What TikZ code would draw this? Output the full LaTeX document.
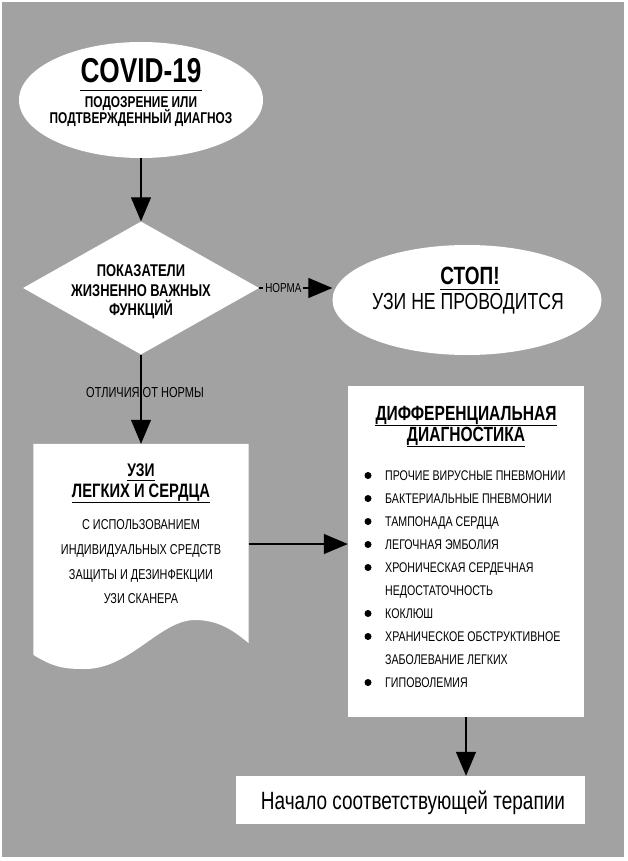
\documentclass[tikz,border=0pt]{standalone}
\usepackage{fontspec}
\setmainfont{Liberation Sans}[FakeStretch=0.76]
\usetikzlibrary{shapes.geometric,arrows.meta,calc}
\definecolor{bggray}{HTML}{A2A2A2}
\newcommand{\fsz}[1]{\fontsize{#1}{#1}\selectfont}
\begin{document}
\begin{tikzpicture}[x=1pt,y=-1pt,
  txt/.style={inner sep=0, anchor=base},
  btxt/.style={txt, font=\bfseries\fsz{#1}},
  rtxt/.style={txt, font=\fsz{#1}},
  whitebox/.style={fill=white, draw=none, inner sep=0},
  arr/.style={line width=1.2pt, -{Triangle[length=24pt,width=20pt]}},
  ul/.style={line width=0.9pt},
  bullet/.style={circle, fill=black, inner sep=0, minimum size=7pt}
]
\useasboundingbox (0,0) rectangle (627,861);
\fill[bggray] (2,2) rectangle (624,857);

% top ellipse
\node[ellipse, whitebox, minimum width=244, minimum height=116] (covid) at (141,100) {};
\node[btxt=34.5] (t1) at (141,83) {COVID-19};
\draw[ul] ($(t1.base west)+(0,7)$) -- ($(t1.base east)+(0,7)$);
\node[btxt=15.6] (t2) at (141,108) {ПОДОЗРЕНИЕ ИЛИ};
\node[btxt=15.6] (t3) at (141,124) {ПОДТВЕРЖДЕННЫЙ ДИАГНОЗ};

% diamond
\node[diamond, whitebox, minimum width=236, minimum height=133] (dia) at (141,288) {};
\node[btxt=17] (d1) at (141,276.5) {ПОКАЗАТЕЛИ};
\node[btxt=17] (d2) at (141,296) {ЖИЗНЕННО ВАЖНЫХ};
\node[btxt=17] (d3) at (141,315) {ФУНКЦИЙ};

% stop ellipse
\node[ellipse, whitebox, minimum width=269, minimum height=110] (stop) at (467,300) {};
\node[btxt=25] (s1) at (470,284) {СТОП!};
\draw[ul] ($(s1.base west)+(0,5)$) -- ($(s1.base east)+(0,5)$);
\node[rtxt=23.2] (s2) at (468,309) {УЗИ НЕ ПРОВОДИТСЯ};

% document shape
\node[inner sep=0, minimum width=215, minimum height=200] (doc) at (141,544) {};
\fill[white] (doc.north west) -- (doc.north east) -- (248.5,643)
  .. controls (235,632) and (220,620) .. (195,620)
  .. controls (160,620) and (130,669) .. (85,669)
  .. controls (65,669) and (55,668) .. (33.5,655) -- cycle;
\node[btxt=18.3] (u1) at (141,476.5) {УЗИ};
\draw[ul] ($(u1.base west)+(0,4)$) -- ($(u1.base east)+(0,4)$);
\node[btxt=19.4] (u2) at (141,497.5) {ЛЕГКИХ И СЕРДЦА};
\draw[ul] ($(u2.base west)+(0,4.5)$) -- ($(u2.base east)+(0,4.5)$);
\node[rtxt=14.3] (u3) at (141,529.5) {С ИСПОЛЬЗОВАНИЕМ};
\node[rtxt=14.3] (u4) at (141,554.5) {ИНДИВИДУАЛЬНЫХ СРЕДСТВ};
\node[rtxt=14.3] (u5) at (141,579.5) {ЗАЩИТЫ И ДЕЗИНФЕКЦИИ};
\node[rtxt=14.3] (u6) at (141,603.5) {УЗИ СКАНЕРА};

% differential box
\node[whitebox, minimum width=236, minimum height=331] (diff) at (466,551.5) {};
\node[btxt=20.5] (f1) at (466,420.5) {ДИФФЕРЕНЦИАЛЬНАЯ};
\draw[ul] ($(f1.base west)+(0,4.5)$) -- ($(f1.base east)+(0,4.5)$);
\node[btxt=20.5] (f2) at (466,441.5) {ДИАГНОСТИКА};
\draw[ul] ($(f2.base west)+(0,4.5)$) -- ($(f2.base east)+(0,4.5)$);
\foreach \yy/\tt/\bb [count=\i] in {
  480.5/ПРОЧИЕ ВИРУСНЫЕ ПНЕВМОНИИ/1,
  503.5/БАКТЕРИАЛЬНЫЕ ПНЕВМОНИИ/1,
  526.5/ТАМПОНАДА СЕРДЦА/1,
  549.5/ЛЕГОЧНАЯ ЭМБОЛИЯ/1,
  572.5/ХРОНИЧЕСКАЯ СЕРДЕЧНАЯ/1,
  595.5/НЕДОСТАТОЧНОСТЬ/0,
  618.5/КОКЛЮШ/1,
  641.5/ХРАНИЧЕСКОЕ ОБСТРУКТИВНОЕ/1,
  664.5/ЗАБОЛЕВАНИЕ ЛЕГКИХ/0,
  687.5/ГИПОВОЛЕМИЯ/1}{
  \node[rtxt=14, anchor=base west] (it\i) at (385,\yy) {\tt};
  \ifnum\bb=1 \node[bullet] (b\i) at (368,\yy-5) {};\fi
}

% final box
\node[whitebox, minimum width=349, minimum height=48] (final) at (410.5,800) {};
\node[rtxt=25] (fin) at (413,809) {Начало соответствующей терапии};

% connectors
\draw[arr] (covid.south) -- (dia.north);
\draw[arr] (dia.east) -- node[pos=0.33, fill=bggray, inner sep=2pt, font=\fsz{13}] (lnorm) {НОРМА} (dia.east -| stop.west);
\draw[arr] (dia.south) -- node[pos=0.42, inner sep=0, font=\fsz{14.5}, xshift=4pt] (lotl) {ОТЛИЧИЯ ОТ НОРМЫ} (doc.north);
\draw[arr] (doc.east) -- (doc.east -| diff.west);
\draw[arr] (diff.south) -- (diff.south |- final.north);
\end{tikzpicture}
\end{document}
